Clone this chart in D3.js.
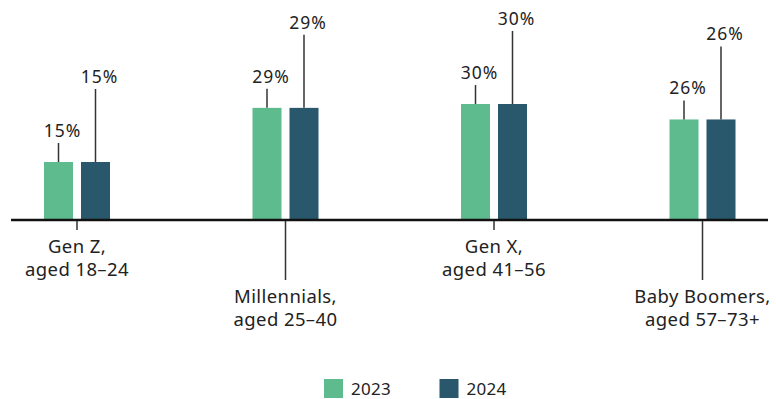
<!DOCTYPE html>
<html>
<head>
<meta charset="utf-8">
<script src="https://cdn.jsdelivr.net/npm/d3@7"></script>
<style>
  html, body { margin: 0; padding: 0; background: #fff; }
  svg { display: block; }
  text { font-family: "Noto Sans", "Open Sans", sans-serif; fill: #222; }
</style>
</head>
<body>
<svg id="chart" width="776" height="399"></svg>
<script>
const categories = ["Gen Z,|aged 18–24", "Millennials,|aged 25–40", "Gen X,|aged 41–56", "Baby Boomers,|aged 57–73+"];
const seriesNames = ["2023", "2024"];
const values2023 = [15, 29, 30, 26];
const values2024 = [15, 29, 30, 26];
const colors = ["#5ebb8e", "#29576c"];

const svg = d3.select("#chart");
const baseline = 220;

const x = d3.scalePoint().domain(categories).range([77, 702.5]);
const xSub = d3.scaleBand().domain(seriesNames).range([-33, 33]).paddingInner(0.216);
const y = d3.scaleLinear().domain([0, 30]).range([baseline, baseline - 116]);

const data = seriesNames.map((s, si) => ({
  name: s,
  color: colors[si],
  values: (si === 0 ? values2023 : values2024).map((v, i) => ({ cat: categories[i], v }))
}));

const leaderLen = [19, 73];

data.forEach((s, si) => {
  const g = svg.append("g");
  g.selectAll("rect").data(s.values).join("rect")
    .attr("x", d => x(d.cat) + xSub(s.name))
    .attr("y", d => y(d.v))
    .attr("width", xSub.bandwidth())
    .attr("height", d => y(0) - y(d.v))
    .attr("fill", s.color);
  g.selectAll("line").data(s.values).join("line")
    .attr("x1", d => x(d.cat) + xSub(s.name) + xSub.bandwidth() / 2)
    .attr("x2", d => x(d.cat) + xSub(s.name) + xSub.bandwidth() / 2)
    .attr("y1", d => y(d.v))
    .attr("y2", d => y(d.v) - leaderLen[si])
    .attr("stroke", "#333").attr("stroke-width", 1.5);
  g.selectAll("text").data(s.values).join("text")
    .attr("x", d => x(d.cat) + xSub(s.name) + xSub.bandwidth() / 2 + 4)
    .attr("y", d => y(d.v) - leaderLen[si] - 6)
    .attr("text-anchor", "middle")
    .attr("font-size", 17.5)
    .attr("letter-spacing", 1)
    .text(d => d.v + "%");
});

// axis baseline
svg.append("line")
  .attr("x1", 11).attr("x2", 768)
  .attr("y1", baseline).attr("y2", baseline)
  .attr("stroke", "#111").attr("stroke-width", 2.5);

// category labels
const catLen = [10, 60, 10, 60];
const cg = svg.append("g");
categories.forEach((c, i) => {
  const cx = x(c);
  cg.append("line")
    .attr("x1", cx).attr("x2", cx)
    .attr("y1", baseline + 1).attr("y2", baseline + catLen[i])
    .attr("stroke", "#333").attr("stroke-width", 1.5);
  const t = cg.append("text")
    .attr("text-anchor", "middle")
    .attr("font-size", 18.5)
    .attr("letter-spacing", 0.4)
    .attr("y", baseline + catLen[i] + 22.5);
  c.split("|").forEach((line, li) => {
    t.append("tspan").attr("x", cx).attr("dy", li === 0 ? 0 : 23.5).text(line);
  });
});

// legend
const lg = svg.append("g");
const legX = [324, 439.5];
seriesNames.forEach((s, i) => {
  lg.append("rect").attr("x", legX[i]).attr("y", 379).attr("width", 19).attr("height", 19).attr("fill", colors[i]);
  lg.append("text").attr("x", legX[i] + 27).attr("y", 395).attr("font-size", 17).attr("letter-spacing", 0.3).text(s);
});
</script>
</body>
</html>
